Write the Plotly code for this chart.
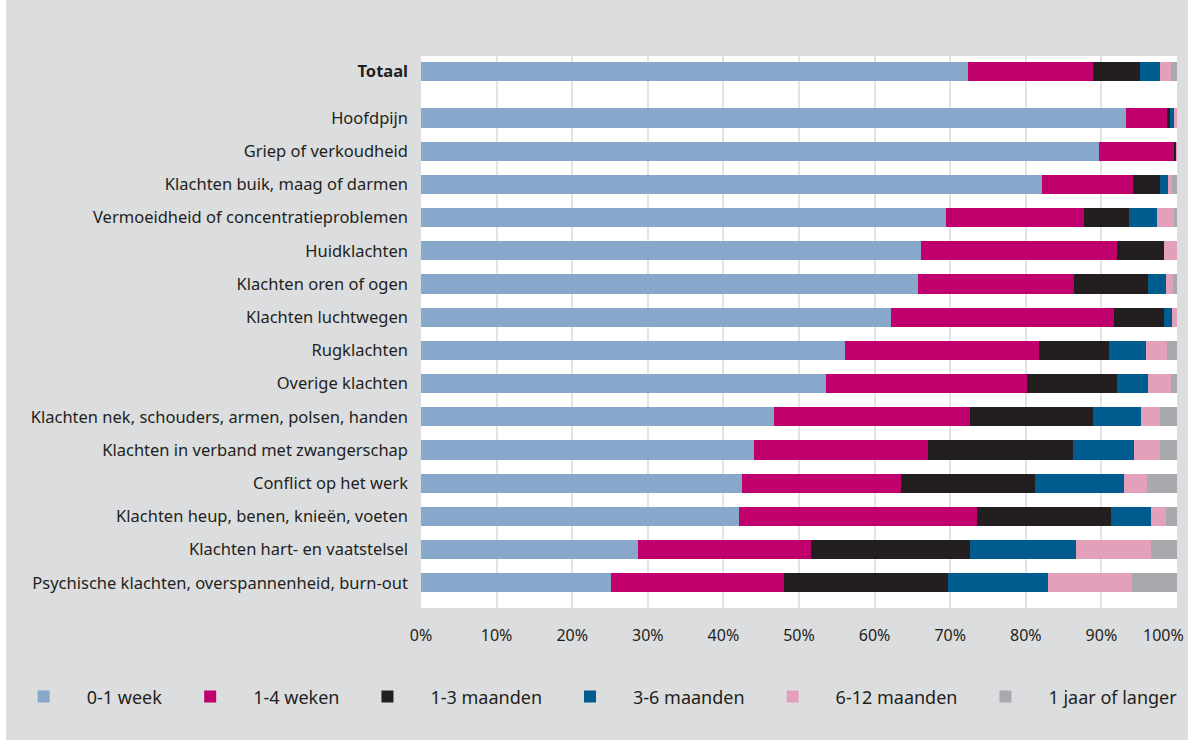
import plotly.graph_objects as go

# categories, top to bottom
categories = [
    "<b>Totaal</b>",
    "Hoofdpijn",
    "Griep of verkoudheid",
    "Klachten buik, maag of darmen",
    "Vermoeidheid of concentratieproblemen",
    "Huidklachten",
    "Klachten oren of ogen",
    "Klachten luchtwegen",
    "Rugklachten",
    "Overige klachten",
    "Klachten nek, schouders, armen, polsen, handen",
    "Klachten in verband met zwangerschap",
    "Conflict op het werk",
    "Klachten heup, benen, knieën, voeten",
    "Klachten hart- en vaatstelsel",
    "Psychische klachten, overspannenheid, burn-out",
]

week_0_1 = [72.4, 93.2, 89.7, 82.2, 69.5, 66.1, 65.7, 62.2, 56.1, 53.6, 46.7, 44.1, 42.5, 42.0, 28.7, 25.1]
weken_1_4 = [16.5, 5.5, 9.95, 12.0, 18.25, 26.0, 20.7, 29.5, 25.6, 26.5, 25.9, 22.9, 21.0, 31.6, 22.9, 22.9]
maanden_1_3 = [6.25, 0.4, 0.25, 3.6, 5.85, 6.2, 9.7, 6.6, 9.35, 12.0, 16.35, 19.2, 17.7, 17.7, 21.0, 21.7]
maanden_3_6 = [2.55, 0.55, 0.0, 1.05, 3.7, 0.0, 2.4, 1.1, 4.9, 4.0, 6.35, 8.05, 11.8, 5.3, 14.1, 13.2]
maanden_6_12 = [1.55, 0.35, 0.1, 0.55, 2.35, 1.7, 1.0, 0.6, 2.75, 3.15, 2.5, 3.55, 3.0, 1.9, 9.9, 11.1]
jaar_langer = [0.75, 0.0, 0.0, 0.6, 0.35, 0.0, 0.5, 0.0, 1.3, 0.75, 2.2, 2.2, 4.0, 1.5, 3.4, 6.0]

series = [
    ("0-1 week", week_0_1, "#87a8ca"),
    ("1-4 weken", weken_1_4, "#c0006c"),
    ("1-3 maanden", maanden_1_3, "#231f20"),
    ("3-6 maanden", maanden_3_6, "#005c8f"),
    ("6-12 maanden", maanden_6_12, "#e2a0bb"),
    ("1 jaar of langer", jaar_langer, "#a8a9ad"),
]

x_ticks = [0, 10, 20, 30, 40, 50, 60, 70, 80, 90, 100]

# row positions: Totaal sits a bit apart from the other rows
ypos = [-1.4] + list(range(len(categories) - 1))

BG = "#dcdddf"
TXT = "#231f20"
FONT = "Noto Sans"

fig = go.Figure()
for name, vals, col in series:
    fig.add_trace(go.Bar(
        y=ypos, x=vals, name=name, orientation="h",
        marker=dict(color=col, line=dict(width=0)),
        width=0.58,
    ))

fig.update_layout(
    barmode="stack",
    width=1188, height=740,
    paper_bgcolor=BG, plot_bgcolor="white",
    margin=dict(l=421, r=11, t=56, b=132, autoexpand=False),
    font=dict(family=FONT, size=16, color=TXT),
    showlegend=True,
    legend=dict(
        orientation="h", x=-0.556, xanchor="left", y=-0.161, yanchor="middle",
        font=dict(size=18, color=TXT), bgcolor="rgba(0,0,0,0)",
        itemwidth=76, traceorder="normal",
    ),
    bargap=0,
)
# all labels but the last come from the axis; the last one is right-aligned
# at the end of the axis so it stays inside the card
fig.update_xaxes(
    range=[0, 100], tickvals=x_ticks[:-1], ticktext=[f"{v}%" for v in x_ticks[:-1]],
    showgrid=True, gridcolor="#e3e3e5", gridwidth=2, zeroline=False,
    showline=False, ticks="", ticklabelstandoff=16,
    tickfont=dict(size=16, color=TXT), fixedrange=True, automargin=False,
)
fig.add_annotation(
    x=x_ticks[-1], xref="x", y=-0.049, yref="paper",
    text=f"{x_ticks[-1]}%", showarrow=False, xanchor="right", yanchor="middle",
    xshift=9, font=dict(size=16, color=TXT),
)
fig.update_yaxes(
    range=[14.76, -1.87], tickvals=ypos, ticktext=categories,
    showgrid=False, zeroline=False, showline=False, ticks="",
    ticklabelstandoff=12, tickfont=dict(size=16.5, color=TXT), automargin=False,
)

# thin white strip on the left edge of the card
fig.add_shape(type="rect", xref="paper", yref="paper",
              x0=-421 / 756, x1=-415 / 756, y0=-132 / 552, y1=1 + 56 / 552,
              fillcolor="white", line=dict(width=0), layer="below")

fig.write_html("out.html", config={"displayModeBar": False},
               post_script="document.body.style.margin='0';")
